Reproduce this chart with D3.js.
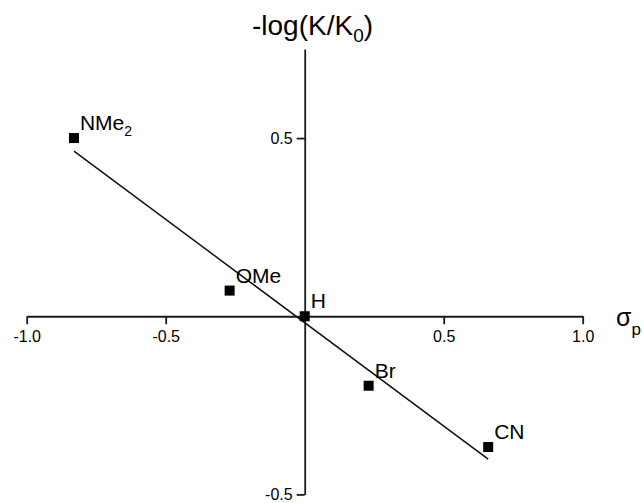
<!DOCTYPE html>
<html>
<head>
<meta charset="utf-8">
<script src="https://cdnjs.cloudflare.com/ajax/libs/d3/7.8.5/d3.min.js"></script>
<style>
    body { margin: 0; background: #fff; }
    svg { font-family: "Liberation Sans", Arial, sans-serif; }
</style>
</head>
<body>
<div id="chart"></div>
<script>

// substituent data (Hammett sigma_p vs -log(K/K0))
var names   = ["NMe", "OMe", "H", "Br", "CN"];
var subs    = ["2", "", "", "", ""];
var sigma   = [-0.83, -0.27, 0.0, 0.23, 0.66];
var logK    = [0.50, 0.072, 0.0, -0.195, -0.367];

// fitted line
var fitX    = [-0.83, 0.66];
var fitSlope = -0.58,
    fitIntercept = -0.018;

var xTicks  = [-1.0, -0.5, 0.5, 1.0];
var xTickLabels = ["-1.0", "-0.5", "0.5", "1.0"];
var yTicks  = [-0.5, 0.5];
var yTickLabels = ["-0.5", "0.5"];

var width = 644, height = 503;

var svg = d3.select("#chart").append("svg")
    .attr("width", width)
    .attr("height", height);

// scales
var x = d3.scaleLinear().domain([-1, 1]).range([26.7, 582.7]);
var y = d3.scaleLinear().domain([-0.5, 0.75]).range([494.4, 49]);

// x axis
svg.append("g")
    .attr("transform", "translate(0," + y(0) + ")")
    .call(d3.axisBottom(x)
        .tickValues(xTicks)
        .tickFormat(function(d, i) { return xTickLabels[i]; })
        .tickSize(8)
        .tickSizeOuter(0)
        .tickPadding(6));

// y axis
svg.append("g")
    .attr("transform", "translate(" + x(0) + ",0)")
    .call(d3.axisLeft(y)
        .tickValues(yTicks)
        .tickFormat(function(d, i) { return yTickLabels[i]; })
        .tickSize(8)
        .tickSizeOuter(0)
        .tickPadding(4));

svg.selectAll(".domain, .tick line")
    .attr("stroke", "#1a1a1a")
    .attr("stroke-width", 1.8);
svg.selectAll(".tick text")
    .attr("fill", "#000")
    .style("font-size", "16px")
    .style("font-family", "'Liberation Sans', Arial, sans-serif");

// regression line
svg.append("line")
    .attr("x1", x(fitX[0]))
    .attr("y1", y(fitSlope * fitX[0] + fitIntercept))
    .attr("x2", x(fitX[1]))
    .attr("y2", y(fitSlope * fitX[1] + fitIntercept))
    .attr("stroke", "#111")
    .attr("stroke-width", 1.5);

// points
var size = 10;
svg.selectAll("rect.pt")
    .data(sigma)
    .enter().append("rect")
    .attr("class", "pt")
    .attr("x", function(d) { return x(d) - size / 2; })
    .attr("y", function(d, i) { return y(logK[i]) - size / 2; })
    .attr("width", size)
    .attr("height", size)
    .attr("fill", "#000");

// point labels
var labels = svg.selectAll("text.lbl")
    .data(sigma)
    .enter().append("text")
    .attr("class", "lbl")
    .attr("x", function(d) { return x(d) + 6; })
    .attr("y", function(d, i) { return y(logK[i]) - 8; })
    .style("font-size", "21px")
    .attr("fill", "#000");

labels.append("tspan").text(function(d, i) { return names[i]; });
labels.append("tspan")
    .attr("dy", 6)
    .style("font-size", "14px")
    .text(function(d, i) { return subs[i]; });

// y axis title
var yTitle = svg.append("text")
    .attr("x", 252)
    .attr("y", 35)
    .style("font-size", "28px")
    .attr("fill", "#000");
yTitle.append("tspan").text("-log(K/K");
yTitle.append("tspan").attr("dy", 7).style("font-size", "19px").text("0");
yTitle.append("tspan").attr("dy", -7).text(")");

// x axis title
var xTitle = svg.append("text")
    .attr("x", 616)
    .attr("y", 326)
    .style("font-size", "25px")
    .attr("fill", "#000");
xTitle.append("tspan").text("σ");
xTitle.append("tspan").attr("dy", 9).style("font-size", "17px").text("p");

</script>
</body>
</html>
